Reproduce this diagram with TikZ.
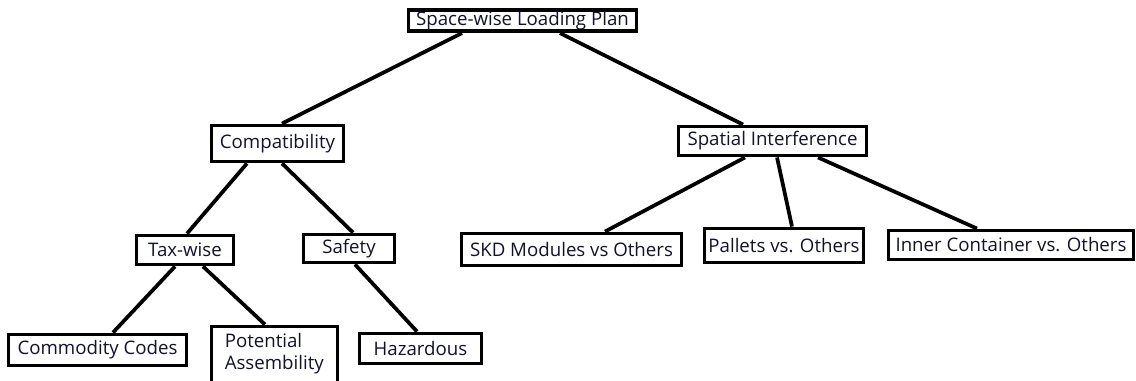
\documentclass[tikz,border=0pt]{standalone}
\usepackage{fontspec}
\setmainfont{Open Sans}
\definecolor{txt}{HTML}{121230}
\begin{document}
\begin{tikzpicture}[x=0.75pt,y=-0.75pt,
  box/.style={draw=black, line width=2.9pt, fill=white, inner sep=0pt,
    text=txt, font=\fontsize{14}{16.5}\selectfont},
  link/.style={draw=black, line width=2.8pt}]
\useasboundingbox (0,0) rectangle (1136,380);
\clip (0,0) rectangle (1136,380);
\fill[white] (0,0) rectangle (1136,380);
% nodes
\node[box, minimum width=171pt, minimum height=16pt] (top) at (522.5,20.5) {Space-wise Loading Plan};
\node[box, minimum width=99pt, minimum height=27pt] (comp) at (277.5,143.5) {Compatibility};
\node[box, minimum width=141pt, minimum height=21.75pt] (spat) at (772.5,141) {Spatial Interference};
\node[box, minimum width=72.75pt, minimum height=21.75pt] (tax) at (185,250) {Tax-wise};
\node[box, minimum width=68.25pt, minimum height=21pt] (safe) at (349,248.5) {Safety};
\node[box, minimum width=133.5pt, minimum height=23.25pt] (comm) at (97.5,350) {Commodity Codes};
\node[box, anchor=north west, minimum width=94.5pt, inner ysep=5.2pt] (pot) at (209.5,324.5)
  {\parbox[t][60pt][t]{74.5pt}{Potential\\Assembility}};
\node[box, minimum width=91.5pt, minimum height=22.5pt] (haz) at (420.5,348.5) {Hazardous};
\node[box, minimum width=165pt, minimum height=24pt] (skd) at (571.5,249.5) {SKD Modules vs Others};
\node[box, minimum width=119.25pt, minimum height=25.5pt] (pal) at (784,245.5) {Pallets vs. Others};
\node[box, minimum width=183.75pt, minimum height=21.75pt] (inn) at (1011,245) {Inner Container vs. Others};
% connectors
\draw[link] ([xshift=-45.4pt]top.south) -- ([xshift=3.4pt]comp.north);
\draw[link] ([xshift=28.1pt]top.south) -- ([xshift=-22.1pt]spat.north);
\draw[link] ([xshift=-22.9pt]comp.south) -- ([xshift=1.5pt]tax.north);
\draw[link] ([xshift=3.4pt]comp.south) -- ([xshift=3pt]safe.north);
\draw[link] ([xshift=-7.5pt]tax.south) -- ([xshift=11.6pt]comm.north);
\draw[link] ([xshift=13.5pt]tax.south) -- ([xshift=-7.1pt]pot.north);
\draw[link] ([xshift=4.5pt]safe.south) -- ([xshift=-2.6pt]haz.north);
\draw[link] ([xshift=-20.6pt]spat.south) -- ([xshift=25.1pt]skd.north);
\draw[link] ([xshift=3.4pt]spat.south) -- ([xshift=6pt]pal.north);
\draw[link] ([xshift=34.1pt]spat.south) -- ([xshift=-25.5pt]inn.north);
\end{tikzpicture}
\end{document}
